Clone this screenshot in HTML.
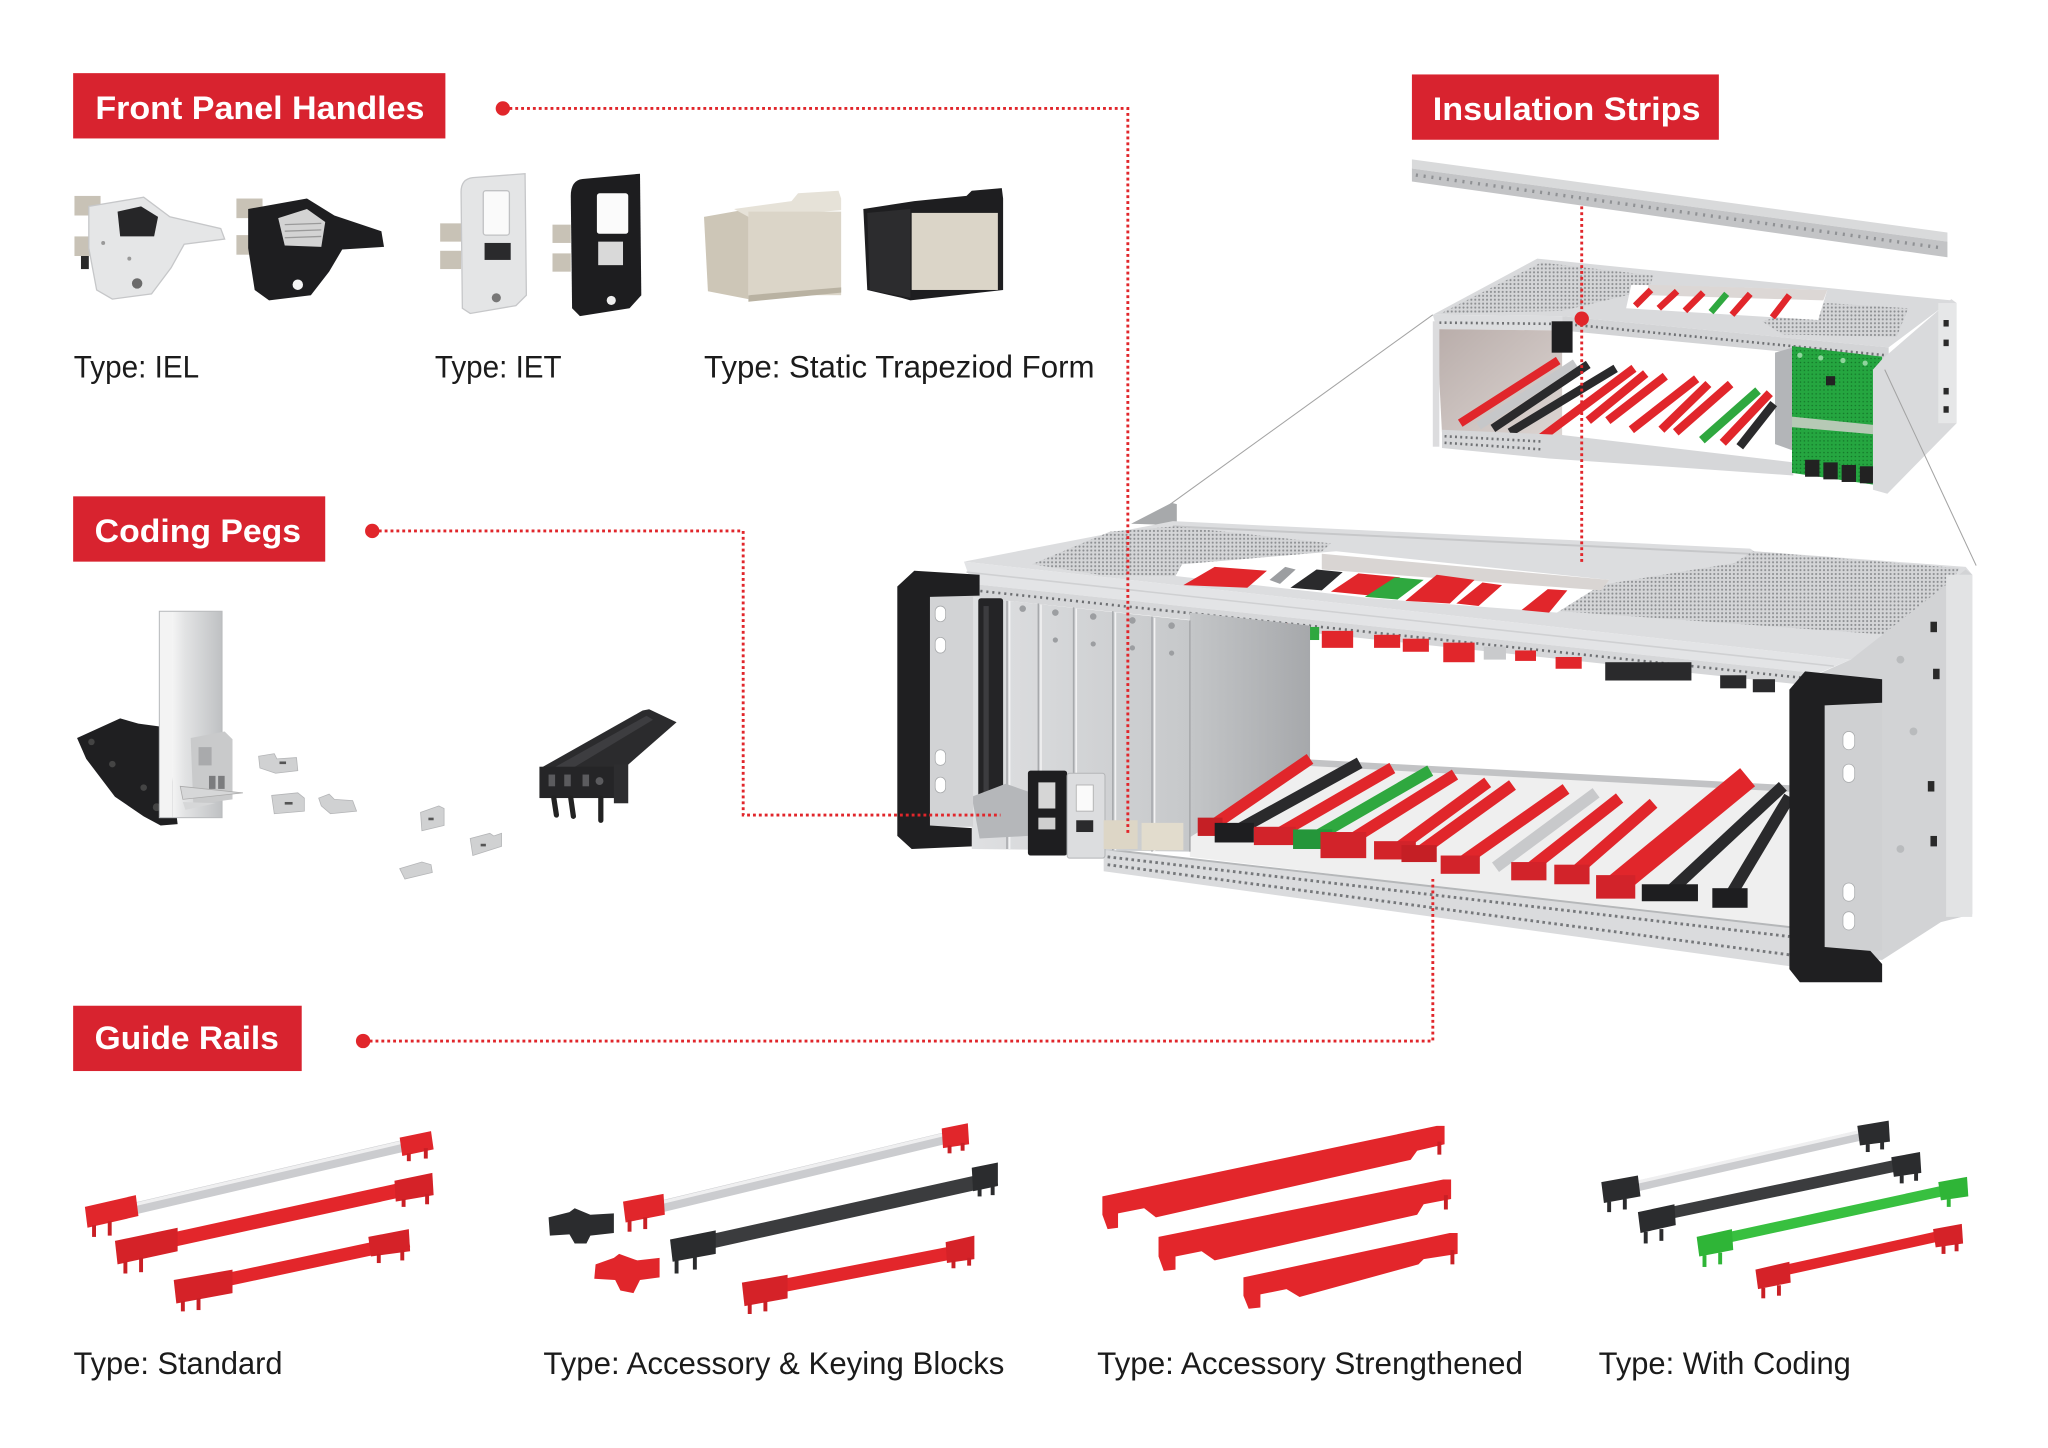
<!DOCTYPE html>
<html><head><meta charset="utf-8"><style>
html,body{margin:0;padding:0;background:#fff;}
svg{display:block;}
text{font-family:"Liberation Sans",Arial,sans-serif;}
</style></head><body>
<svg xmlns="http://www.w3.org/2000/svg" width="2048" height="1448" viewBox="0 0 1568 1108.6" preserveAspectRatio="none">
<defs>
<pattern id="perf" width="3" height="3" patternUnits="userSpaceOnUse"><rect width="3" height="3" fill="#d4d5d7"/><circle cx="1.5" cy="1.5" r="0.8" fill="#8c8e91"/></pattern>
<pattern id="pcb" width="3" height="3" patternUnits="userSpaceOnUse"><rect width="3" height="3" fill="#25a640"/><circle cx="1.5" cy="1.5" r="0.6" fill="#137528"/></pattern>
<linearGradient id="panel" x1="0" y1="0" x2="1" y2="0"><stop offset="0" stop-color="#dfe0e2"/><stop offset="1" stop-color="#c6c8ca"/></linearGradient>
<linearGradient id="back" x1="0" y1="0" x2="1" y2="0"><stop offset="0" stop-color="#c4c6c8"/><stop offset="1" stop-color="#a6a8ab"/></linearGradient>
<linearGradient id="wall" x1="0" y1="0" x2="1" y2="1"><stop offset="0" stop-color="#b9adaa"/><stop offset="1" stop-color="#ddd6d3"/></linearGradient>
<linearGradient id="bar" x1="0" y1="0" x2="1" y2="0"><stop offset="0" stop-color="#f4f4f4"/><stop offset="0.25" stop-color="#e2e3e4"/><stop offset="1" stop-color="#bfc1c3"/></linearGradient>
</defs>
<rect width="1568" height="1108.6" fill="#fff"/>

<!-- ===== Label boxes ===== -->
<rect x="56" y="56" width="285" height="50" fill="#d8232f"/>
<text x="73" y="91" font-size="25" font-weight="700" fill="#fff" textLength="252" lengthAdjust="spacingAndGlyphs">Front Panel Handles</text>
<rect x="1081" y="57" width="235" height="50" fill="#d8232f"/>
<text x="1097" y="92" font-size="25" font-weight="700" fill="#fff" textLength="205" lengthAdjust="spacingAndGlyphs">Insulation Strips</text>
<rect x="56" y="380" width="193" height="50" fill="#d8232f"/>
<text x="72.5" y="415" font-size="25" font-weight="700" fill="#fff" textLength="158" lengthAdjust="spacingAndGlyphs">Coding Pegs</text>
<rect x="56" y="770" width="175" height="50" fill="#d8232f"/>
<text x="72.5" y="803" font-size="25" font-weight="700" fill="#fff" textLength="141" lengthAdjust="spacingAndGlyphs">Guide Rails</text>

<!-- ===== Type labels ===== -->
<g font-size="24" fill="#1b1b1b">
<text x="56.5" y="289" textLength="96" lengthAdjust="spacingAndGlyphs">Type: IEL</text>
<text x="333" y="289" textLength="97" lengthAdjust="spacingAndGlyphs">Type: IET</text>
<text x="539" y="289" textLength="299" lengthAdjust="spacingAndGlyphs">Type: Static Trapeziod Form</text>
<text x="56.3" y="1052" textLength="160" lengthAdjust="spacingAndGlyphs">Type: Standard</text>
<text x="416" y="1052" textLength="353" lengthAdjust="spacingAndGlyphs">Type: Accessory &amp; Keying Blocks</text>
<text x="840" y="1052" textLength="326" lengthAdjust="spacingAndGlyphs">Type: Accessory Strengthened</text>
<text x="1224" y="1052" textLength="193" lengthAdjust="spacingAndGlyphs">Type: With Coding</text>
</g>

<!-- ===== Front panel handle products ===== -->
<g>
<rect x="57" y="150" width="20" height="15" fill="#c8c2b6"/>
<rect x="57" y="181" width="20" height="15" fill="#c8c2b6"/>
<rect x="62" y="196" width="6" height="10" fill="#2a2a2a"/>
<polygon points="68,158 110,151 130,166 169,175 172,183 141,187 131,205 116,225 86,229 74,222 68,190" fill="#e5e6e7" stroke="#c6c7c9" stroke-width="1"/>
<polygon points="90,162 108,158 121,166 118,181 92,181" fill="#262628"/>
<circle cx="105" cy="217" r="4" fill="#6b6b6b"/>
<circle cx="79" cy="186" r="1.5" fill="#999"/><circle cx="99" cy="198" r="1.5" fill="#999"/>
</g>
<g>
<rect x="181" y="152" width="20" height="15" fill="#c8c2b6"/>
<rect x="181" y="180" width="20" height="15" fill="#c8c2b6"/>
<polygon points="190,160 235,152 256,165 292,177 294,189 262,191 252,208 238,226 206,230 195,222 190,190" fill="#1e1e20"/>
<polygon points="213,167 235,160 249,170 246,189 218,188" fill="#d3d3d3"/>
<g stroke="#9a9a9a" stroke-width="1"><line x1="218" y1="172" x2="246" y2="171"/><line x1="218" y1="177" x2="246" y2="176"/><line x1="218" y1="182" x2="246" y2="181"/></g>
<circle cx="228" cy="218" r="4" fill="#f5f5f5"/>
</g>
<g>
<rect x="337" y="171" width="16" height="14" fill="#c8c2b6"/>
<rect x="337" y="192" width="16" height="14" fill="#c8c2b6"/>
<path d="M353,147 Q353,137 362,136 L402,133 L403,226 L395,234 L360,240 L354,236 Z" fill="#e4e5e6" stroke="#c6c7c9" stroke-width="1"/>
<rect x="370" y="146" width="20" height="34" rx="2" fill="#fafafa" stroke="#c0c1c3" stroke-width="1"/>
<rect x="371" y="186" width="20" height="13" fill="#2a2a2c"/>
<circle cx="380" cy="228" r="3.5" fill="#777"/>
</g>
<g>
<rect x="423" y="172" width="14" height="14" fill="#c8c2b6"/>
<rect x="423" y="194" width="14" height="14" fill="#c8c2b6"/>
<path d="M437,150 Q437,138 446,137 L490,133 L491,226 L482,236 L444,242 L438,236 Z" fill="#1d1d1f"/>
<rect x="457" y="148" width="24" height="31" rx="2" fill="#fbfbfb"/>
<rect x="458" y="185" width="19" height="18" fill="#d9d9d9"/>
<circle cx="468" cy="230" r="3.5" fill="#eee"/>
</g>
<g>
<polygon points="539,166 573,160 573,229 542,223" fill="#cdc6b7"/>
<polygon points="562,160 606,154 611,148 642,146 644,152 644,161 573,166" fill="#e6e2d8"/>
<rect x="573" y="162" width="71" height="64" fill="#dbd5c8"/>
<polygon points="573,226 644,220 644,224 573,231" fill="#b9b2a2"/>
</g>
<g>
<polygon points="661,160 700,154 740,150 744,146 767,144 768,152 768,222 697,230 690,228 664,222" fill="#1e1e20"/>
<rect x="698" y="163" width="66" height="59" fill="#dbd5c8"/>
<polygon points="664,163 697,160 697,228 666,222" fill="#2c2c2e"/>
</g>

<!-- ===== Coding pegs illustration ===== -->
<g>
<polygon points="59,565 92,550 106,554 128,557 132,598 136,631 123,632 110,625 88,610 66,581" fill="#1f1f21"/>
<g fill="#444"><circle cx="70" cy="568" r="2.5"/><circle cx="86" cy="585" r="2.5"/><circle cx="110" cy="603" r="2.5"/><circle cx="120" cy="618" r="3"/></g>
<rect x="122" y="468" width="10" height="158" fill="#f3f3f3"/>
<rect x="132" y="468" width="38" height="158" fill="url(#bar)"/>
<rect x="122" y="468" width="48" height="158" fill="none" stroke="#b9bbbd" stroke-width="0.8"/>
<polygon points="146,565 172,560 178,566 178,612 148,616" fill="#c9cacb"/>
<rect x="152" y="572" width="10" height="14" fill="#a9aaac"/>
<rect x="160" y="594" width="5" height="10" fill="#7b7c7e"/><rect x="167" y="594" width="5" height="10" fill="#7b7c7e"/>
<polygon points="138,602 186,607 140,612" fill="#d6d7d8" stroke="#aaa" stroke-width="0.6"/>
<polygon points="140,614 165,615 142,620" fill="#d6d7d8"/>
</g>
<g fill="#d0d1d2" stroke="#b4b5b7" stroke-width="0.6">
<polygon points="198,579 210,577 212,581 227,580 228,590 211,592 199,588"/>
<polygon points="208,609 228,607 233,611 233,621 210,623"/>
<polygon points="244,611 252,608 256,612 270,613 273,621 253,623 246,617"/>
<polygon points="322,622 336,617 340,619 340,632 323,636"/>
<polygon points="360,642 375,638 378,640 384,638 384,648 362,655"/>
<polygon points="306,665 323,660 330,662 331,668 310,673"/>
</g>
<g fill="#555"><rect x="214" y="583" width="5" height="2"/><rect x="218" y="614" width="6" height="2"/><rect x="328" y="626" width="4" height="2"/><rect x="368" y="646" width="4" height="2"/></g>
<g>
<polygon points="414,588 492,544 497,543 518,553 478,588" fill="#2b2b2d"/>
<polygon points="420,590 495,548 500,551 432,592" fill="#3d3d40"/>
<rect x="413" y="587" width="66" height="24" fill="#252527"/>
<rect x="470" y="585" width="11" height="30" fill="#2d2d2f"/>
<g fill="#5b5b5e"><rect x="420" y="593" width="5" height="9"/><rect x="432" y="593" width="5" height="9"/><rect x="446" y="593" width="5" height="9"/><circle cx="459" cy="598" r="3"/></g>
<g stroke="#222" stroke-width="4" stroke-linecap="round"><line x1="424" y1="611" x2="426" y2="624"/><line x1="437" y1="611" x2="439" y2="625"/><line x1="460" y1="611" x2="460" y2="628"/></g>
</g>

<!-- ===== Insulation strip ===== -->
<polygon points="1081,122 1491,178 1491,185 1081,129" fill="#d9dadb"/>
<polygon points="1081,129 1491,185 1491,197 1081,139" fill="#c3c4c6"/>
<line x1="1084" y1="134" x2="1488" y2="190" stroke="#8f9194" stroke-width="2.6" stroke-dasharray="1.6 4.4"/>

<!-- ===== Small cage ===== -->
<g>
<polygon points="1097,241 1177,198 1494,230 1446,266 1196,242" fill="#d9dadc"/>
<polygon points="1103,240 1180,201 1266,211 1262,222 1196,238" fill="url(#perf)"/>
<polygon points="1349,246 1398,232 1461,236 1452,258 1365,256" fill="url(#perf)"/>
<polygon points="1249,218 1399,222 1392,245 1245,236" fill="#fff"/>
<polygon points="1262,218 1399,222 1396,230 1262,226" fill="#dcd7d5"/>
<g stroke="#e1262b" stroke-width="5"><line x1="1252" y1="234" x2="1264" y2="222"/><line x1="1270" y1="236" x2="1284" y2="223"/><line x1="1290" y1="238" x2="1304" y2="224"/><line x1="1326" y1="241" x2="1340" y2="225"/><line x1="1357" y1="243" x2="1370" y2="226"/></g>
<line x1="1310" y1="239" x2="1322" y2="225" stroke="#2fa83f" stroke-width="5"/>
<!-- left box section -->
<polygon points="1097,241 1196,242 1196,253 1100,252" fill="#dcdddf"/>
<line x1="1102" y1="247" x2="1194" y2="248" stroke="#6f7174" stroke-width="2" stroke-dasharray="1.5 2.5"/>
<!-- front top rail -->
<polygon points="1196,242 1446,266 1446,277 1196,253" fill="#d3d4d6"/>
<line x1="1198" y1="248" x2="1444" y2="272" stroke="#6f7174" stroke-width="2" stroke-dasharray="1.5 2.5"/>
<!-- left inner wall -->
<polygon points="1100,252 1196,253 1196,336 1104,331" fill="url(#wall)"/>
<rect x="1097" y="246" width="5" height="96" fill="#dcdcde"/>
<rect x="1188" y="246" width="16" height="24" fill="#1f1f21"/>
<!-- back panel -->
<polygon points="1359,270 1373,266 1373,345 1359,340" fill="#b3b5b8"/>
<!-- small cage floor rails -->
<g stroke-width="6.5">
<line x1="1118" y1="324" x2="1193" y2="276" stroke="#e1262b"/>
<line x1="1132" y1="326" x2="1206" y2="278" stroke="#c6c7c9"/>
<line x1="1143" y1="328" x2="1216" y2="279" stroke="#2a2a2c"/>
<line x1="1156" y1="331" x2="1237" y2="282" stroke="#2a2a2c"/>
<line x1="1176" y1="338" x2="1251" y2="282" stroke="#e1262b"/>
<line x1="1216" y1="322" x2="1260" y2="286" stroke="#e1262b"/>
<line x1="1231" y1="322" x2="1275" y2="288" stroke="#e1262b"/>
<line x1="1249" y1="329" x2="1299" y2="290" stroke="#e1262b"/>
<line x1="1272" y1="329" x2="1308" y2="294" stroke="#e1262b"/>
<line x1="1283" y1="331" x2="1325" y2="294" stroke="#e1262b"/>
<line x1="1303" y1="337" x2="1346" y2="299" stroke="#2fa83f"/>
<line x1="1319" y1="339" x2="1355" y2="301" stroke="#e1262b"/>
<line x1="1332" y1="342" x2="1358" y2="309" stroke="#2a2a2c"/>
</g>
<polygon points="1104,329 1196,333 1373,354 1373,364 1186,351 1104,343" fill="#d6d7d9"/>
<line x1="1106" y1="334" x2="1180" y2="338" stroke="#6f7174" stroke-width="2" stroke-dasharray="1.5 2.5"/>
<line x1="1106" y1="339" x2="1180" y2="344" stroke="#6f7174" stroke-width="2" stroke-dasharray="1.5 2.5"/>
<!-- green boards -->
<polygon points="1372,265 1441,273 1441,372 1372,362" fill="url(#pcb)"/>
<polygon points="1372,319 1441,326 1441,333 1372,327" fill="#b6c9b5"/>
<g fill="#8fd49c"><circle cx="1378" cy="272" r="2"/><circle cx="1394" cy="274" r="2"/><circle cx="1411" cy="276" r="2"/><circle cx="1428" cy="278" r="2"/></g>
<g fill="#222"><rect x="1382" y="352" width="11" height="13"/><rect x="1396" y="354" width="11" height="13"/><rect x="1410" y="356" width="11" height="13"/><rect x="1424" y="357" width="11" height="13"/></g>
<rect x="1398" y="288" width="7" height="7" fill="#222"/>
<!-- right side panel -->
<polygon points="1441,275 1494,229 1498,232 1498,324 1445,378 1434,375 1434,283" fill="#d9dadc"/>
<rect x="1484" y="232" width="14" height="92" fill="#e6e7e8"/>
<g fill="#2a2a2a"><rect x="1488" y="245" width="4" height="5"/><rect x="1488" y="260" width="4" height="5"/><rect x="1488" y="297" width="4" height="5"/><rect x="1488" y="311" width="4" height="5"/></g>
</g>

<!-- ===== Thin gray connector lines ===== -->
<line x1="1097" y1="241" x2="896" y2="386" stroke="#a3a3a3" stroke-width="0.8"/>
<line x1="1443" y1="283" x2="1513" y2="433" stroke="#a3a3a3" stroke-width="0.8"/>

<!-- ===== Big cage ===== -->
<g>
<polygon points="866,401 897,385 901,386 901,402" fill="#a7a9ab"/>
<!-- top surface -->
<polygon points="738,430 898,399 1340,420 1343,422 1505,434 1510,440 1417,505" fill="#dcdddf"/>
<line x1="898" y1="403" x2="1340" y2="424" stroke="#c6c7c9" stroke-width="1.5"/>
<polygon points="790,432 850,407 900,403 1019,416 1010,424 905,434 900,441 842,440" fill="url(#perf)"/>
<polygon points="1182,467 1231,447 1328,431 1342,422 1500,435 1474,488" fill="url(#perf)"/>
<!-- cutout -->
<polygon points="900,441 905,432 1023,422 1232,444 1192,469 1050,458" fill="#fff"/>
<polygon points="1012,424 1232,444 1226,452 1012,436" fill="#d9d5d3"/>
<g>
<polygon points="906,448 930,434 970,437 955,450" fill="#e1262b"/>
<polygon points="972,444 984,434 992,436 980,447" fill="#9c9ea1"/>
<polygon points="988,450 1008,436 1028,438 1012,452" fill="#2a2a2c"/>
<polygon points="1019,453 1040,439 1072,442 1050,456" fill="#e1262b"/>
<polygon points="1045,457 1068,442 1090,444 1070,459" fill="#2fa83f"/>
<polygon points="1076,460 1100,440 1129,444 1110,462" fill="#e1262b"/>
<polygon points="1115,462 1135,446 1150,448 1132,464" fill="#e1262b"/>
<polygon points="1165,467 1185,451 1200,452 1186,469" fill="#e1262b"/>
</g>
<!-- front face of top extrusion -->
<polygon points="738,430 1417,505 1392,515.5 744,447" fill="#e3e4e6"/>
<line x1="740" y1="438" x2="1404" y2="510" stroke="#cfd0d2" stroke-width="1.2"/>
<!-- holes strip -->
<polygon points="744,447 1392,515.5 1392,525.5 744,457" fill="#d6d7d9"/>
<line x1="746" y1="452" x2="1390" y2="520" stroke="#6d6f72" stroke-width="2" stroke-dasharray="1.6 3"/>
<!-- hanging blocks -->
<g>
<rect x="928" y="474" width="27" height="11" fill="#2a2a2c"/>
<rect x="960" y="477" width="26" height="11" fill="#e1262b"/>
<rect x="990" y="480" width="20" height="10" fill="#2fa83f"/>
<rect x="1012" y="483" width="24" height="13" fill="#e1262b"/>
<rect x="1052" y="486" width="20" height="10" fill="#e1262b"/>
<rect x="1074" y="489" width="20" height="10" fill="#e1262b"/>
<rect x="1105" y="492" width="24" height="15" fill="#e1262b"/>
<rect x="1136" y="495" width="17" height="10" fill="#c9cacc"/>
<rect x="1160" y="498" width="16" height="8" fill="#e1262b"/>
<rect x="1191" y="503" width="20" height="9" fill="#e1262b"/>
<rect x="1229" y="507" width="66" height="14" fill="#2a2a2c"/>
<rect x="1317" y="517" width="20" height="10" fill="#2a2a2c"/>
<rect x="1342" y="520" width="17" height="10" fill="#2a2a2c"/>
</g>
<!-- inner back panel -->
<polygon points="911,469 1003,479 1003,625 911,641" fill="url(#back)"/>
<!-- floor -->
<polygon points="911,641 1003,584 1376,603 1376,712 911,656" fill="#efefef"/>
<line x1="1003" y1="584" x2="1376" y2="604" stroke="#c2c3c5" stroke-width="5"/>
<!-- bottom guide rails -->
<g stroke-width="9">
<line x1="927" y1="633" x2="1003" y2="581" stroke="#e1262b"/>
<line x1="945" y1="637" x2="1041" y2="584" stroke="#2a2a2c"/>
<line x1="976" y1="640" x2="1066" y2="588" stroke="#e1262b"/>
<line x1="1005" y1="642" x2="1095" y2="590" stroke="#2fa83f"/>
<line x1="1028" y1="647" x2="1114" y2="593" stroke="#e1262b"/>
<line x1="1068" y1="651" x2="1139" y2="599" stroke="#e1262b"/>
<line x1="1086" y1="653" x2="1158" y2="601" stroke="#e1262b"/>
<line x1="1118" y1="661" x2="1199" y2="604" stroke="#e1262b"/>
<line x1="1145" y1="664" x2="1222" y2="607" stroke="#c8c9cb"/>
<line x1="1170" y1="666" x2="1240" y2="611" stroke="#e1262b"/>
<line x1="1203" y1="670" x2="1266" y2="615" stroke="#e1262b"/>
<line x1="1237" y1="678" x2="1338" y2="595" stroke="#e1262b" stroke-width="18"/>
<line x1="1278" y1="683" x2="1365" y2="602" stroke="#2a2a2c"/>
<line x1="1324" y1="687" x2="1370" y2="610" stroke="#2a2a2c"/>
</g>
<!-- front rail band -->
<polygon points="845,650 1372,710 1372,740 845,667" fill="#dadbdd"/>
<line x1="845" y1="650" x2="1372" y2="710" stroke="#b5b7b9" stroke-width="1.5"/>
<line x1="848" y1="656" x2="1370" y2="717" stroke="#76787b" stroke-width="2.2" stroke-dasharray="2 2.6"/>
<line x1="848" y1="662" x2="1370" y2="731" stroke="#76787b" stroke-width="2.2" stroke-dasharray="2 2.6"/>
<!-- rail front blocks -->
<g>
<rect x="917" y="626" width="19" height="14" fill="#c51f25"/>
<rect x="930" y="630" width="30" height="15" fill="#1e1e20"/>
<rect x="960" y="633" width="32" height="14" fill="#d2232a"/>
<rect x="990" y="635" width="30" height="15" fill="#25963a"/>
<rect x="1011" y="637" width="35" height="20" fill="#d2232a"/>
<rect x="1052" y="644" width="32" height="14" fill="#d2232a"/>
<rect x="1073" y="647" width="27" height="13" fill="#c51f25"/>
<rect x="1103" y="655" width="30" height="14" fill="#d2232a"/>
<rect x="1157" y="660" width="27" height="14" fill="#d2232a"/>
<rect x="1190" y="662" width="27" height="15" fill="#d2232a"/>
<rect x="1222" y="670" width="30" height="18" fill="#d2232a"/>
<rect x="1257" y="677" width="43" height="13" fill="#1e1e20"/>
<rect x="1311" y="680" width="27" height="15" fill="#1e1e20"/>
</g>
<!-- front panels -->
<polygon points="744,457 911,475 911,652 744,650" fill="url(#panel)"/>
<g stroke="#a7a9ac" stroke-width="1.2"><line x1="771" y1="460" x2="771" y2="650"/><line x1="795" y1="462" x2="795" y2="650"/><line x1="822" y1="465" x2="822" y2="651"/><line x1="852" y1="468" x2="852" y2="651"/><line x1="882" y1="472" x2="882" y2="652"/><line x1="911" y1="475" x2="911" y2="652"/></g>
<g stroke="#f2f2f3" stroke-width="1.2"><line x1="773" y1="460" x2="773" y2="650"/><line x1="797" y1="463" x2="797" y2="650"/><line x1="824" y1="466" x2="824" y2="651"/><line x1="854" y1="469" x2="854" y2="651"/><line x1="884" y1="473" x2="884" y2="652"/></g>
<g fill="#9c9ea1"><circle cx="783" cy="466" r="2.5"/><circle cx="808" cy="469" r="2.5"/><circle cx="837" cy="472" r="2.5"/><circle cx="867" cy="475" r="2.5"/><circle cx="897" cy="479" r="2.5"/><circle cx="808" cy="490" r="2"/><circle cx="837" cy="493" r="2"/><circle cx="867" cy="496" r="2"/><circle cx="897" cy="500" r="2"/></g>
<rect x="749" y="458" width="19" height="161" rx="2" fill="#242426"/>
<rect x="753" y="464" width="4" height="148" fill="#3c3c3f"/>
<!-- bottom-left items -->
<polygon points="744,610 770,600 787,606 787,640 750,642" fill="#b5b7ba"/>
<rect x="787" y="590" width="30" height="65" rx="2" fill="#1e1e20"/>
<rect x="795" y="599" width="13" height="20" fill="#d6d6d6"/>
<rect x="795" y="626" width="13" height="9" fill="#cfcfcf"/>
<rect x="817" y="592" width="29" height="65" rx="2" fill="#dcdddf" stroke="#b3b5b7" stroke-width="0.8"/>
<rect x="824" y="601" width="13" height="20" fill="#fafafa" stroke="#aaa" stroke-width="0.6"/>
<rect x="824" y="628" width="13" height="9" fill="#2a2a2c"/>
<rect x="845" y="628" width="26" height="22" fill="#ddd6c6"/>
<rect x="874" y="630" width="32" height="21" fill="#e2dccd"/>
<!-- left handle -->
<rect x="712" y="456" width="33" height="177" fill="#d2d3d5"/>
<g fill="#fff" stroke="#a9abad" stroke-width="0.6"><rect x="716" y="464" width="8" height="12" rx="4"/><rect x="716" y="488" width="8" height="12" rx="4"/><rect x="716" y="574" width="8" height="12" rx="4"/><rect x="716" y="595" width="8" height="12" rx="4"/></g>
<path d="M687,449 L700,437 L750,440 L750,456 L712,457 L712,632 L744,634 L744,648 L698,650 L687,640 Z" fill="#1f1f21"/>
<!-- right side panel -->
<polygon points="1392,516 1417,505 1505,436 1510,440 1510,700 1486,706 1441,735 1392,730" fill="#d2d3d5"/>
<rect x="1490" y="440" width="20" height="262" fill="#e2e3e4"/>
<g fill="#2a2a2a"><rect x="1478" y="476" width="5" height="8"/><rect x="1480" y="512" width="5" height="8"/><rect x="1476" y="598" width="5" height="8"/><rect x="1478" y="640" width="5" height="8"/></g>
<g fill="#b9bbbd"><circle cx="1455" cy="505" r="3"/><circle cx="1465" cy="560" r="3"/><circle cx="1455" cy="650" r="3"/></g>
<!-- right handle -->
<rect x="1397" y="538" width="44" height="190" fill="#cfd0d2"/>
<g fill="#fff" stroke="#a9abad" stroke-width="0.6"><rect x="1411" y="560" width="9" height="14" rx="4.5"/><rect x="1411" y="585" width="9" height="14" rx="4.5"/><rect x="1411" y="676" width="9" height="14" rx="4.5"/><rect x="1411" y="698" width="9" height="14" rx="4.5"/></g>
<path d="M1370,528 L1382,514 L1441,520 L1441,538 L1397,540 L1397,725 L1432,728 L1441,738 L1441,752 L1378,752 L1370,742 Z" fill="#1f1f21"/>
</g>

<!-- ===== Guide rail products ===== -->
<g>
<line x1="100" y1="926" x2="310" y2="877" stroke="#cbcccf" stroke-width="9"/>
<line x1="100" y1="923" x2="310" y2="874" stroke="#efeff0" stroke-width="2.5"/>
<polygon points="65,924 104,915 106,931 67,940" fill="#e1262b"/>
<polygon points="306,871 330,866 332,880 308,885" fill="#e1262b"/>
<line x1="92" y1="958" x2="330" y2="906" stroke="#e3262b" stroke-width="11"/>
<polygon points="88,950 136,940 136,958 90,968" fill="#d52228"/>
<polygon points="302,904 331,898 332,915 303,920" fill="#d52228"/>
<line x1="135" y1="988" x2="313" y2="950" stroke="#e3262b" stroke-width="10"/>
<polygon points="133,980 178,972 178,990 135,998" fill="#d52228"/>
<polygon points="282,947 313,941 314,958 284,962" fill="#d52228"/>
<g stroke="#c91f25" stroke-width="3"><line x1="72" y1="938" x2="72" y2="947"/><line x1="84" y1="935" x2="84" y2="946"/><line x1="313" y1="883" x2="313" y2="889"/><line x1="326" y1="879" x2="326" y2="887"/><line x1="96" y1="966" x2="96" y2="975"/><line x1="108" y1="963" x2="108" y2="974"/><line x1="309" y1="918" x2="309" y2="924"/><line x1="327" y1="914" x2="327" y2="922"/><line x1="140" y1="996" x2="140" y2="1004"/><line x1="152" y1="994" x2="152" y2="1003"/><line x1="290" y1="960" x2="290" y2="967"/><line x1="308" y1="957" x2="308" y2="965"/></g>
</g>
<g>
<line x1="505" y1="924" x2="725" y2="871" stroke="#cbcccf" stroke-width="9"/>
<line x1="505" y1="921" x2="725" y2="868" stroke="#efeff0" stroke-width="2.5"/>
<polygon points="477,920 508,914 509,930 479,936" fill="#e1262b"/>
<polygon points="721,864 741,860 742,876 722,879" fill="#e1262b"/>
<line x1="515" y1="957" x2="763" y2="902" stroke="#3b3c3e" stroke-width="11"/>
<polygon points="513,949 548,942 548,960 515,966" fill="#2b2c2e"/>
<polygon points="744,894 764,890 764,908 745,912" fill="#2b2c2e"/>
<line x1="570" y1="990" x2="745" y2="956" stroke="#e3262b" stroke-width="10"/>
<polygon points="568,982 603,976 603,994 570,1000" fill="#d52228"/>
<polygon points="724,951 746,946 746,964 725,967" fill="#d52228"/>
<polygon points="420,932 436,928 440,925 452,930 470,929 470,944 452,946 449,952 440,952 436,945 421,946" fill="#2b2c2e"/>
<polygon points="456,968 470,963 474,960 488,965 505,963 505,978 490,980 485,990 475,988 471,980 455,979" fill="#e1262b"/>
<g stroke="#c91f25" stroke-width="3"><line x1="482" y1="934" x2="482" y2="943"/><line x1="494" y1="932" x2="494" y2="941"/><line x1="727" y1="877" x2="727" y2="883"/><line x1="737" y1="875" x2="737" y2="881"/><line x1="574" y1="998" x2="574" y2="1006"/><line x1="586" y1="996" x2="586" y2="1004"/><line x1="730" y1="965" x2="730" y2="971"/><line x1="742" y1="963" x2="742" y2="969"/></g>
<g stroke="#2b2c2e" stroke-width="3"><line x1="518" y1="964" x2="518" y2="975"/><line x1="532" y1="962" x2="532" y2="972"/><line x1="750" y1="910" x2="750" y2="916"/><line x1="760" y1="908" x2="760" y2="915"/></g>
</g>
<g fill="#e3262b">
<polygon points="844,916 1100,862 1106,862 1106,876 1085,881 1080,888 885,932 876,925 856,929 856,940 848,941 844,930"/>
<polygon points="887,947 1105,903 1111,903 1111,918 1090,922 1085,930 930,965 920,958 900,962 900,972 891,973 887,962"/>
<polygon points="952,978 1110,944 1116,944 1116,960 1090,964 1086,968 995,993 985,987 965,991 965,1001 956,1002 952,992"/>
</g>
<g stroke="#c91f25" stroke-width="3"><line x1="1102" y1="874" x2="1102" y2="884"/><line x1="1107" y1="915" x2="1107" y2="926"/><line x1="1112" y1="957" x2="1112" y2="968"/></g>
<g>
<line x1="1245" y1="910" x2="1430" y2="868" stroke="#cbcccf" stroke-width="8"/>
<line x1="1245" y1="907" x2="1430" y2="865" stroke="#efeff0" stroke-width="2.5"/>
<polygon points="1226,905 1254,900 1256,916 1228,921" fill="#2b2c2e"/>
<polygon points="1422,862 1446,858 1447,874 1424,877" fill="#2b2c2e"/>
<line x1="1258" y1="933" x2="1468" y2="889" stroke="#3b3c3e" stroke-width="9"/>
<polygon points="1254,928 1282,922 1283,938 1256,944" fill="#2b2c2e"/>
<polygon points="1448,886 1470,882 1471,898 1450,901" fill="#2b2c2e"/>
<line x1="1302" y1="952" x2="1505" y2="908" stroke="#38c040" stroke-width="8"/>
<polygon points="1299,947 1326,941 1327,957 1301,962" fill="#2fb537"/>
<polygon points="1484,905 1506,901 1507,916 1486,919" fill="#2fb537"/>
<line x1="1346" y1="977" x2="1500" y2="943" stroke="#e3262b" stroke-width="8"/>
<polygon points="1344,972 1370,966 1371,982 1346,987" fill="#d52228"/>
<polygon points="1480,941 1502,937 1503,952 1482,955" fill="#d52228"/>
<g stroke="#2b2c2e" stroke-width="3"><line x1="1232" y1="920" x2="1232" y2="928"/><line x1="1244" y1="918" x2="1244" y2="926"/><line x1="1430" y1="876" x2="1430" y2="882"/><line x1="1441" y1="874" x2="1441" y2="880"/><line x1="1260" y1="943" x2="1260" y2="952"/><line x1="1272" y1="941" x2="1272" y2="950"/><line x1="1456" y1="900" x2="1456" y2="906"/><line x1="1467" y1="898" x2="1467" y2="904"/></g>
<g stroke="#2fb537" stroke-width="3"><line x1="1305" y1="961" x2="1305" y2="970"/><line x1="1317" y1="959" x2="1317" y2="968"/><line x1="1492" y1="918" x2="1492" y2="924"/></g>
<g stroke="#c91f25" stroke-width="3"><line x1="1350" y1="986" x2="1350" y2="994"/><line x1="1362" y1="984" x2="1362" y2="992"/><line x1="1488" y1="954" x2="1488" y2="960"/><line x1="1498" y1="952" x2="1498" y2="958"/></g>
</g>

<!-- ===== Red dotted connectors ===== -->
<g fill="none" stroke="#e1262b" stroke-width="2.2" stroke-dasharray="2.2 2.3">
<path d="M390,83 H863.5 V638"/>
<path d="M1211,158 V432"/>
<path d="M290,406.5 H569 V624 H766"/>
<path d="M283,797 H1097 V673"/>
</g>
<g fill="#e1262b">
<circle cx="385" cy="83" r="5.5"/>
<circle cx="1211" cy="244" r="5.5"/>
<circle cx="285" cy="406.5" r="5.5"/>
<circle cx="278" cy="797" r="5.5"/>
</g>
</svg>
</body></html>
